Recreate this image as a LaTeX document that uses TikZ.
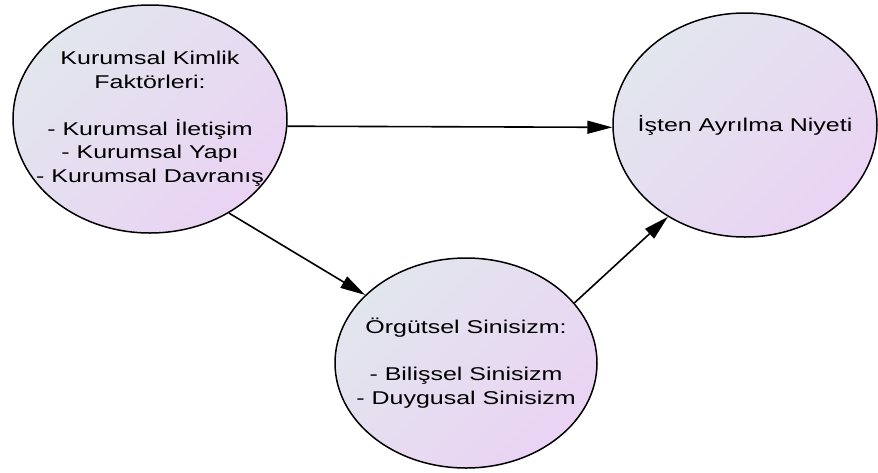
\documentclass[tikz,border=0pt]{standalone}
\usepackage{fontspec}
\newfontfamily\diyagramfont[FakeStretch=1.35]{Liberation Sans}
\usetikzlibrary{arrows.meta,shapes.geometric}
\definecolor{acikgri}{RGB}{226,230,238}
\definecolor{lavanta}{RGB}{234,211,243}
\tikzset{%
	faktor/.style    = {draw, ellipse, line width=1.5pt, top color=acikgri, bottom color=lavanta, shading angle=45, inner sep=-50pt, align=center, font=\diyagramfont\fontsize{18.5}{23.5}\selectfont},
	arrowline/.style = {line width=1.6pt, -{Triangle[length=25pt,width=13pt]}},
}

\begin{document}
\begin{tikzpicture}[x=1pt,y=-1pt]
			\useasboundingbox (0,0) rectangle (878,472);
			\node[faktor, minimum width=274pt, minimum height=228pt] (kimlik) at (150,119) {Kurumsal Kimlik\\Faktörleri:\\[23.5pt]- Kurumsal İletişim\\- Kurumsal Yapı\\- Kurumsal Davranış};
			\node[faktor, minimum width=264pt, minimum height=224pt] (niyet) at (745,125) {İşten Ayrılma Niyeti};
			\node[faktor, minimum width=262pt, minimum height=210pt] (sinisizm) at (466,363) {Örgütsel Sinisizm:\\[23.5pt]- Bilişsel Sinisizm\\- Duygusal Sinisizm};
			
			\draw[arrowline] (kimlik.-3.8) -- (niyet.181);
			\draw[arrowline] (kimlik.-50) -- (sinisizm.146);
			\draw[arrowline] (sinisizm.29) -- (niyet.230);
\end{tikzpicture}
\end{document}
